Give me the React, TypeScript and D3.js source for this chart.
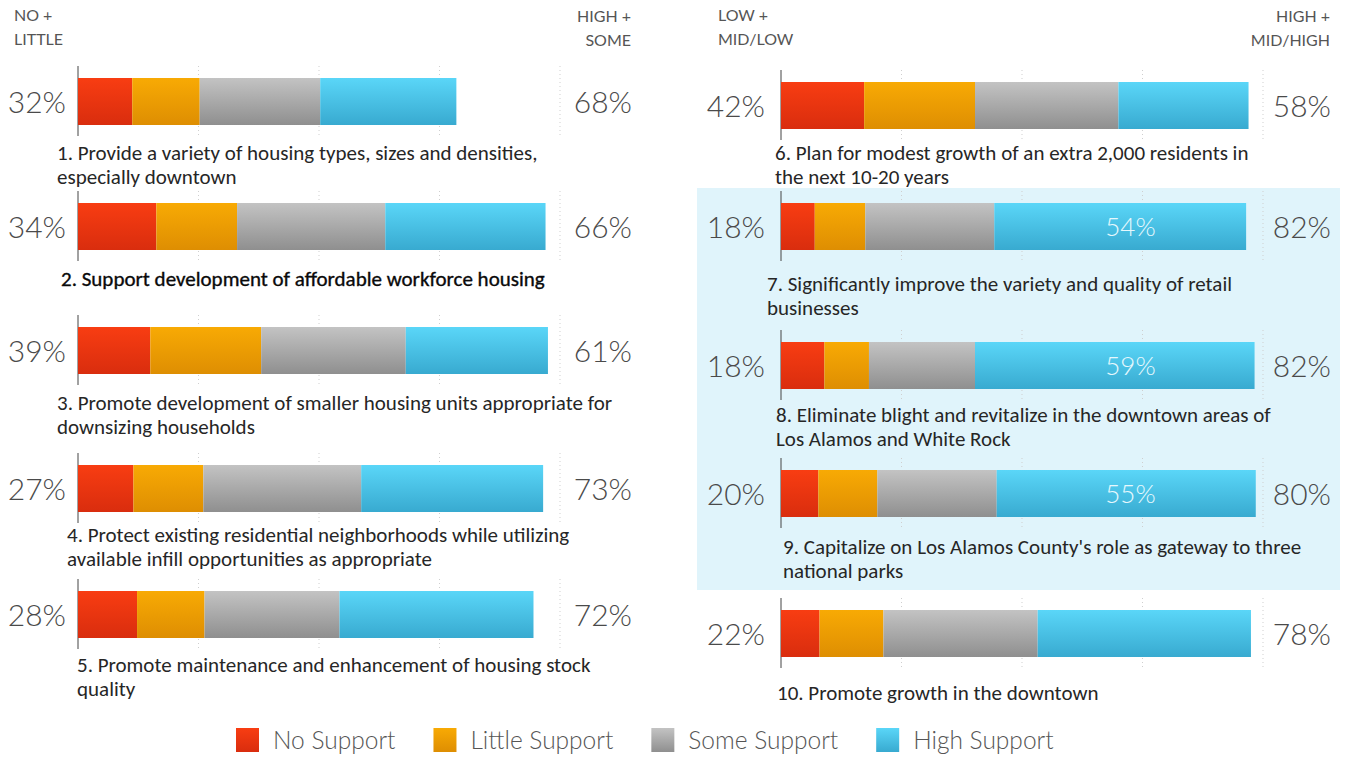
import React, { useEffect, useRef } from "react";
import * as d3 from "d3";

// ---------- data ----------
const leftLabels = [
  "1. Provide a variety of housing types, sizes and densities,|especially downtown",
  "2. Support development of affordable workforce housing",
  "3. Promote development of smaller housing units appropriate for|downsizing households",
  "4. Protect existing residential neighborhoods while utilizing|available infill opportunities as appropriate",
  "5. Promote maintenance and enhancement of housing stock|quality",
];
const leftNo = [45, 65, 60, 46, 49];
const leftLittle = [56, 67, 92, 58, 56];
const leftSome = [100, 123, 120, 131, 112];
const leftHigh = [113, 133, 118, 151, 161];
const leftLowPct = ["32%", "34%", "39%", "27%", "28%"];
const leftHighPct = ["68%", "66%", "61%", "73%", "72%"];

const rightLabels = [
  "6. Plan for modest growth of an extra 2,000 residents in|the next 10-20 years",
  "7. Significantly improve the variety and quality of retail|businesses",
  "8. Eliminate blight and revitalize in the downtown areas of|Los Alamos and White Rock",
  "9. Capitalize on Los Alamos County's role as gateway to three|national parks",
  "10. Promote growth in the downtown",
];
const rightNo = [69, 28, 36, 31, 32];
const rightLittle = [92, 42, 37, 49, 53];
const rightSome = [119, 107, 88, 99, 128];
const rightHigh = [108, 209, 232, 215, 177];
const rightLowPct = ["42%", "18%", "18%", "20%", "22%"];
const rightHighPct = ["58%", "82%", "82%", "80%", "78%"];
const rightInnerPct = ["", "54%", "59%", "55%", ""];
const rightHighlighted = [false, true, true, true, false];

const seriesKeys = ["no", "little", "some", "high"];
const seriesNames = ["No Support", "Little Support", "Some Support", "High Support"];
const gridTicks = [100, 200, 300, 400];
const leftHeaders = [["NO +", "LITTLE"], ["HIGH +", "SOME"]];
const rightHeaders = [["LOW +", "MID/LOW"], ["HIGH +", "MID/HIGH"]];

// ---------- styles ----------
const gradColors = [
  ["#f83d12", "#d92d0e"],
  ["#f8aa04", "#de8e02"],
  ["#c3c3c3", "#8f8f8f"],
  ["#5ad6f8", "#38aad0"],
];
const LABEL_FONT = "Carlito, Calibri, Lato, 'Open Sans', sans-serif";
const NUM_FONT = "Lato, 'Open Sans', sans-serif";

export default function App() {
  const ref = useRef<SVGSVGElement>(null);

  useEffect(() => {
    const svg = d3.select(ref.current);
    svg.selectAll("*").remove();
    const defs = svg.append("defs");
    gradColors.forEach((g, i) => {
      const lg = defs
        .append("linearGradient")
        .attr("id", "grad" + i)
        .attr("x1", 0)
        .attr("y1", 0)
        .attr("x2", 0)
        .attr("y2", 1);
      lg.append("stop").attr("offset", "0%").attr("stop-color", g[0]);
      lg.append("stop").attr("offset", "100%").attr("stop-color", g[1]);
    });

    const barH = 47;

    const panels = [
      {
        labels: leftLabels,
        series: [leftNo, leftLittle, leftSome, leftHigh],
        lowPct: leftLowPct,
        highPct: leftHighPct,
        inner: null as string[] | null,
        highlighted: null as boolean[] | null,
        range: [78, 560],
        rowTop: [78, 203, 327, 465, 591],
        labelX: [57, 61, 57, 67, 77],
        labelY: [160, 286, 410, 542, 672],
        lowX: 66,
        highX: 632,
        headers: leftHeaders,
        headLowX: 14,
        headHighX: 631,
      },
      {
        labels: rightLabels,
        series: [rightNo, rightLittle, rightSome, rightHigh],
        lowPct: rightLowPct,
        highPct: rightHighPct,
        inner: rightInnerPct,
        highlighted: rightHighlighted,
        range: [781, 1263],
        rowTop: [82, 203, 342, 470, 610],
        labelX: [775, 767, 776, 783, 777],
        labelY: [160, 291, 422, 554, 700],
        lowX: 765,
        highX: 1331,
        headers: rightHeaders,
        headLowX: 718,
        headHighX: 1330,
      },
    ];

    panels.forEach((p) => {
      const x = d3.scaleLinear().domain([0, 400]).range(p.range);
      const rows = p.labels.map((l, i) => {
        const o: any = { label: l, i };
        seriesKeys.forEach((k, s) => (o[k] = p.series[s][i]));
        return o;
      });
      const stacked = d3.stack<any>().keys(seriesKeys)(rows);
      const g = svg.append("g");

      // highlight band
      if (p.highlighted) {
        const idx = p.highlighted.map((h, i) => (h ? i : -1)).filter((i) => i >= 0);
        const top = p.rowTop[idx[0]] - 15;
        const bottom = p.rowTop[idx[idx.length - 1]] + 120;
        g.append("rect")
          .attr("x", 697)
          .attr("y", top)
          .attr("width", 643)
          .attr("height", bottom - top)
          .attr("fill", "#e0f4fb");
      }

      // headers
      p.headers[0].forEach((t, j) =>
        g.append("text")
          .attr("x", p.headLowX)
          .attr("y", 21 + j * 24)
          .attr("font-family", NUM_FONT)
          .attr("font-size", 16)
          .attr("fill", "#555")
          .text(t)
      );
      p.headers[1].forEach((t, j) =>
        g.append("text")
          .attr("x", p.headHighX)
          .attr("y", 22 + j * 24)
          .attr("text-anchor", "end")
          .attr("font-family", NUM_FONT)
          .attr("font-size", 16)
          .attr("fill", "#555")
          .text(t)
      );

      rows.forEach((r, i) => {
        const top = p.rowTop[i];
        // grid lines
        g.selectAll(null)
          .data(gridTicks)
          .enter()
          .append("line")
          .attr("x1", (d) => x(d))
          .attr("x2", (d) => x(d))
          .attr("y1", top - 12)
          .attr("y2", top + barH + 11)
          .attr("stroke", "#cfcfcf")
          .attr("stroke-width", 1)
          .attr("stroke-dasharray", "1,3");
        // axis line
        g.append("line")
          .attr("x1", x(0))
          .attr("x2", x(0))
          .attr("y1", top - 12)
          .attr("y2", top + barH + 11)
          .attr("stroke", "#444")
          .attr("stroke-width", 1);
      });

      // bars
      stacked.forEach((layer, s) => {
        g.selectAll(null)
          .data(layer)
          .enter()
          .append("rect")
          .attr("x", (d) => x(d[0]))
          .attr("width", (d) => x(d[1]) - x(d[0]))
          .attr("y", (_d, i) => p.rowTop[i])
          .attr("height", barH)
          .attr("fill", `url(#grad${s})`);
      });

      rows.forEach((r, i) => {
        const top = p.rowTop[i];
        const cy = top + barH / 2;
        g.append("text")
          .attr("x", p.lowX)
          .attr("y", cy + 11)
          .attr("text-anchor", "end")
          .attr("font-family", NUM_FONT)
          .attr("font-weight", 300)
          .attr("font-size", 30)
          .attr("fill", "#4a4a4a")
          .text(p.lowPct[i]);
        g.append("text")
          .attr("x", p.highX)
          .attr("y", cy + 11)
          .attr("text-anchor", "end")
          .attr("font-family", NUM_FONT)
          .attr("font-weight", 300)
          .attr("font-size", 30)
          .attr("fill", "#4a4a4a")
          .text(p.highPct[i]);
        if (p.inner && p.inner[i]) {
          g.append("text")
            .attr("x", x(290))
            .attr("y", cy + 9)
            .attr("text-anchor", "middle")
            .attr("font-family", NUM_FONT)
            .attr("font-weight", 300)
            .attr("font-size", 26)
            .attr("fill", "#e6f8fd")
            .text(p.inner[i]);
        }
        const emphasis = i === 1 && p.inner === null;
        const lines = r.label.split("|");
        const t = g
          .append("text")
          .attr("font-family", LABEL_FONT)
          .attr("font-size", 21)
          .attr("fill", emphasis ? "#0a0a0a" : "#262626")
          .attr("stroke", emphasis ? "#0a0a0a" : "none")
          .attr("stroke-width", emphasis ? 0.35 : 0);
        lines.forEach((ln: string, j: number) =>
          t.append("tspan")
            .attr("x", p.labelX[i])
            .attr("y", p.labelY[i] + j * 23.5)
            .text(ln)
        );
      });
    });

    // legend
    const lg = svg.append("g");
    let lx = 236;
    seriesNames.forEach((name, s) => {
      lg.append("rect")
        .attr("x", lx)
        .attr("y", 728)
        .attr("width", 23)
        .attr("height", 24)
        .attr("fill", `url(#grad${s})`);
      const tx = lg
        .append("text")
        .attr("x", lx + 37)
        .attr("y", 749)
        .attr("font-family", NUM_FONT)
        .attr("font-weight", 300)
        .attr("font-size", 24.5)
        .attr("fill", "#555")
        .text(name);
      const w = (tx.node() as SVGTextElement).getComputedTextLength();
      lx = lx + 37 + w + 38;
    });
  }, []);

  return (
    <svg
      ref={ref}
      width={1345}
      height={757}
      style={{ position: "absolute", left: 0, top: 0, background: "#fff", display: "block" }}
    />
  );
}
